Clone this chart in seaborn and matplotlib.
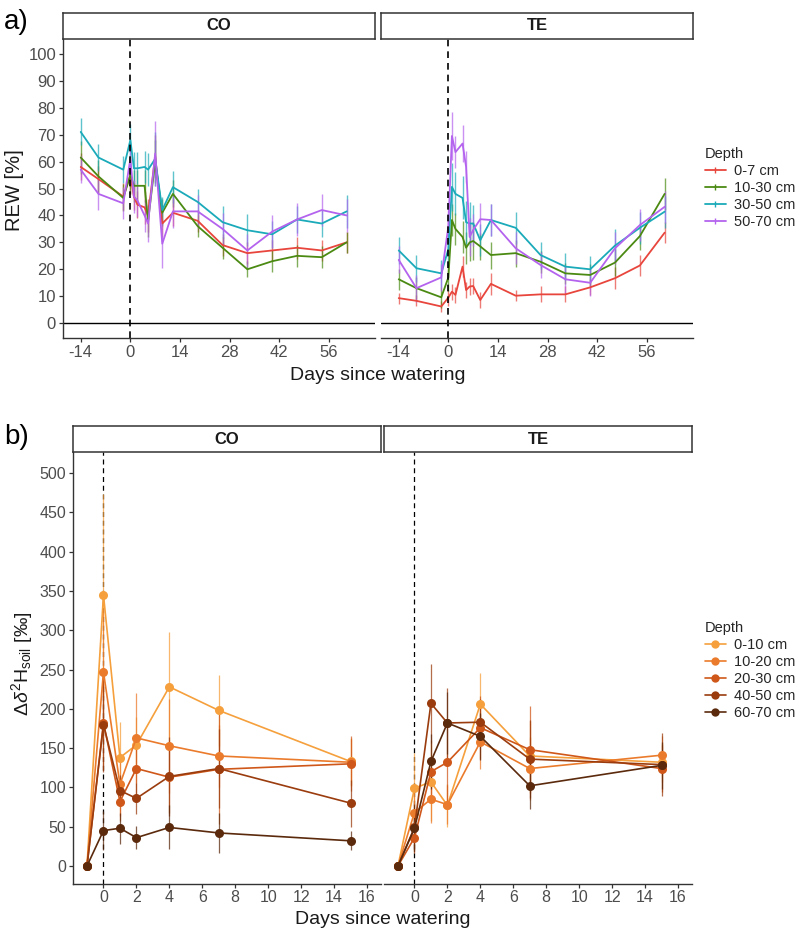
import numpy as np
import pandas as pd
import matplotlib
matplotlib.use('Agg')
import matplotlib.pyplot as plt
import seaborn as sns
from matplotlib.lines import Line2D

# ---- panel a: relative extractable water (REW) ----
rew_depths = ['0-7 cm', '10-30 cm', '30-50 cm', '50-70 cm']
rew_colors = ['#E8453C', '#4B8A12', '#1AAAB9', '#B463EE']

co_days = [-14, -9, -2, 0, 1, 2, 4, 5, 7, 9, 12, 19, 26, 33, 40, 47, 54, 61]
co_rew = {
    '0-7 cm':   [58, 53.5, 47, 55, 47, 44, 43, 40, 62, 37, 41, 38, 29, 26, 27, 28, 27, 30],
    '10-30 cm': [61.5, 54.5, 46.5, 55, 51, 51, 51, 38, 60, 41, 48, 36, 28, 20, 23, 25, 24.5, 30],
    '30-50 cm': [71, 61.5, 57, 68, 57.5, 57.5, 58, 57, 61, 42, 50.5, 45, 37.5, 34.5, 33, 38.5, 37, 41.5],
    '50-70 cm': [57, 48, 44.5, 61, 47, 45.5, 40, 37, 63, 29.5, 41.5, 41.5, 35, 27, 34, 38.5, 42, 40],
}
co_rew_se = {
    '0-7 cm':   [5, 5, 5, 7, 5, 5, 6, 6, 8, 5, 5, 4, 4, 4, 4, 4, 4, 4],
    '10-30 cm': [6, 6, 5, 7, 6, 6, 6, 6, 8, 5, 5, 4, 4, 3, 4, 4, 4, 4],
    '30-50 cm': [5, 5, 5, 6, 6, 6, 6, 6, 10, 5, 6, 5, 6, 6, 5, 5, 5, 6],
    '50-70 cm': [5, 6, 6, 6, 6, 6, 6, 7, 12, 9, 6, 6, 6, 6, 6, 6, 6, 6],
}

te_days = [-14, -9, -2, 0, 1, 2, 4, 5, 6, 7, 9, 12, 19, 26, 33, 40, 47, 54, 61]
te_rew = {
    '0-7 cm':   [9.3, 8.3, 6.2, 9.5, 11.7, 10.5, 21, 12.3, 13.6, 13.8, 8.6, 14.6, 10.2, 10.7, 10.7, 13.3, 16.7, 21.4, 33.6],
    '10-30 cm': [16.3, 13, 9.6, 17, 38.3, 35, 32, 28, 30, 30.5, 28.5, 25.3, 26, 22.8, 18.5, 17.9, 22.5, 32.3, 48],
    '30-50 cm': [27, 20.4, 18.5, 27.5, 50.6, 48, 46.5, 37.5, 37, 37, 30.8, 38.3, 35.4, 25.3, 21, 20, 28.8, 35.4, 41.4],
    '50-70 cm': [23.5, 13, 17, 36, 69.5, 63.5, 66.7, 58, 32, 34.6, 38.6, 38.3, 27.8, 21.6, 16.3, 15, 27.8, 36.4, 43.2],
}
te_rew_se = {
    '0-7 cm':   [2, 2, 2, 3, 3, 3, 4, 3, 3, 3, 3, 4, 2, 3, 3, 3, 4, 4, 4],
    '10-30 cm': [4, 4, 4, 5, 6, 6, 6, 6, 7, 7, 5, 5, 5, 4, 4, 4, 5, 5, 6],
    '30-50 cm': [5, 5, 5, 6, 9, 8, 8, 8, 8, 7, 6, 6, 6, 5, 5, 5, 6, 6, 6],
    '50-70 cm': [5, 5, 5, 6, 9, 6, 7, 6, 7, 6, 6, 6, 6, 5, 5, 5, 6, 6, 6],
}

# ---- panel b: soil water d2H enrichment ----
iso_depths = ['0-10 cm', '10-20 cm', '20-30 cm', '40-50 cm', '60-70 cm']
iso_colors = ['#F5A03C', '#EB7B2C', '#CF5719', '#9A3C0E', '#5B2A0D']
iso_days = [-1, 0, 1, 2, 4, 7, 15]

co_iso = {
    '0-10 cm':  [0, 345, 138, 154, 228, 198, 133],
    '10-20 cm': [0, 247, 104, 163, 153, 140, 132],
    '20-30 cm': [0, 182, 82, 124, 113, 123, 130],
    '40-50 cm': [0, 180, 96, 86, 114, 124, 80],
    '60-70 cm': [0, 45, 48, 36, 49, 42, 32],
}
co_iso_se = {
    '0-10 cm':  [0, 128, 45, 35, 70, 45, 30],
    '10-20 cm': [0, 80, 40, 57, 60, 40, 30],
    '20-30 cm': [0, 60, 25, 40, 45, 70, 35],
    '40-50 cm': [0, 60, 20, 20, 50, 50, 30],
    '60-70 cm': [0, 25, 20, 15, 28, 25, 12],
}
te_iso = {
    '0-10 cm':  [0, 99, 107, 77, 206, 140, 132],
    '10-20 cm': [0, 68, 85, 78, 158, 124, 141],
    '20-30 cm': [0, 36, 120, 132, 176, 148, 124],
    '40-50 cm': [0, 49, 207, 182, 183, 136, 129],
    '60-70 cm': [0, 48, 133, 182, 165, 102, 128],
}
te_iso_se = {
    '0-10 cm':  [0, 45, 50, 27, 40, 45, 25],
    '10-20 cm': [0, 30, 30, 25, 35, 40, 25],
    '20-30 cm': [0, 20, 40, 50, 40, 55, 30],
    '40-50 cm': [0, 30, 50, 45, 30, 50, 40],
    '60-70 cm': [0, 30, 35, 40, 30, 30, 30],
}


def long_df(days, vals, errs, depths):
    rows = []
    for d in depths:
        for x, v, e in zip(days, vals[d], errs[d]):
            rows.append([d, x, v, e])
    return pd.DataFrame(rows, columns=['Depth', 'day', 'value', 'se'])


sns.set_theme(style='ticks')
plt.rcParams['font.family'] = ['Liberation Sans', 'DejaVu Sans']
plt.rcParams['axes.unicode_minus'] = False
plt.rcParams['mathtext.fontset'] = 'custom'
plt.rcParams['mathtext.rm'] = 'Liberation Sans'
plt.rcParams['mathtext.it'] = 'Liberation Sans:italic'

W, H = 800, 933
fig = plt.figure(figsize=(8, 9.33), dpi=100)


def fx(px):
    return px / W


def fy(py):
    return 1 - py / H


axis_grey = '#333333'
tick_grey = '#4D4D4D'


def style_axis(ax, show_y, size=12):
    sns.despine(ax=ax)
    for s in ['left', 'bottom']:
        ax.spines[s].set_color(axis_grey)
        ax.spines[s].set_linewidth(1.0)
    ax.tick_params(colors=axis_grey, labelcolor=tick_grey, labelsize=size, length=3, width=0.9, pad=2)
    if not show_y:
        ax.spines['left'].set_visible(False)
        ax.tick_params(axis='y', left=False, labelleft=False)
    ax.set_xlabel('')
    ax.set_ylabel('')


def strip(left, top, width, text):
    sax = fig.add_axes([fx(left), fy(top + 26), fx(width), 26 / H])
    sax.set_xticks([])
    sax.set_yticks([])
    sax.set_facecolor('white')
    for s in sax.spines.values():
        s.set_color(axis_grey)
        s.set_linewidth(1.1)
    sax.text(0.5, 0.5, text, ha='center', va='center', fontsize=12, fontweight='bold',
             color='#1A1A1A', transform=sax.transAxes)


# ---------------- panel a ----------------
a_top, a_bot = 39, 338
a_panels = [(63, 'CO', co_days, co_rew, co_rew_se), (381, 'TE', te_days, te_rew, te_rew_se)]
for i, (left, name, days, vals, errs) in enumerate(a_panels):
    ax = fig.add_axes([fx(left), fy(a_bot), fx(312), (a_bot - a_top) / H])
    df = long_df(days, vals, errs, rew_depths)
    pal = dict(zip(rew_depths, rew_colors))
    for d in rew_depths:
        sub = df[df.Depth == d]
        ax.vlines(sub.day, sub.value - sub.se, sub.value + sub.se, colors=pal[d],
                  linewidth=1.0, alpha=0.7)
    sns.lineplot(data=df, x='day', y='value', hue='Depth', palette=pal, ax=ax,
                 linewidth=1.3, legend=False, errorbar=None)
    ax.axhline(0, color='black', linewidth=1.0)
    ax.axvline(0, color='black', linewidth=1.2, linestyle=(0, (4, 3)))
    ax.set_xlim(-19, 69)
    ax.set_ylim(-5.5, 105.5)
    ax.set_xticks([-14, 0, 14, 28, 42, 56])
    ax.set_yticks(np.arange(0, 101, 10))
    style_axis(ax, i == 0)
    strip(left, a_top - 26, 312, name)

fig.text(fx(15), fy(190), 'REW [%]', rotation=90, ha='center', va='center', fontsize=14.5, color='#1A1A1A')
fig.text(fx(378), fy(376), 'Days since watering', ha='center', va='center', fontsize=14, color='#1A1A1A')
fig.text(fx(4), fy(22), 'a)', ha='left', va='center', fontsize=20, color='black')

handles_a = [Line2D([], [], color=c, linewidth=1.3, marker='|', markersize=5, markeredgewidth=1)
             for c in rew_colors]
fig.legend(handles_a, rew_depths, title='Depth', loc='upper left',
           bbox_to_anchor=(fx(692), fy(134)), frameon=False, fontsize=10.5,
           title_fontsize=10.5, handlelength=1.4, handletextpad=0.6, labelspacing=0.2,
           alignment='left')

# ---------------- panel b ----------------
b_top, b_bot = 452, 884
b_panels = [(73, 'CO', co_iso, co_iso_se), (384, 'TE', te_iso, te_iso_se)]
for i, (left, name, vals, errs) in enumerate(b_panels):
    ax = fig.add_axes([fx(left), fy(b_bot), fx(308), (b_bot - b_top) / H])
    df = long_df(iso_days, vals, errs, iso_depths)
    pal = dict(zip(iso_depths, iso_colors))
    for d in iso_depths:
        sub = df[df.Depth == d]
        ax.vlines(sub.day, sub.value - sub.se, sub.value + sub.se, colors=pal[d],
                  linewidth=0.9, alpha=0.75)
    sns.lineplot(data=df, x='day', y='value', hue='Depth', palette=pal, ax=ax,
                 linewidth=1.2, marker='o', markersize=6.5, markeredgewidth=0,
                 legend=False, errorbar=None)
    ax.axvline(0, color='black', linewidth=0.9, linestyle=(0, (4, 3)), zorder=0)
    ax.set_xlim(-1.85, 16.85)
    ax.set_ylim(-23, 527)
    ax.set_xticks(np.arange(0, 17, 2))
    ax.set_yticks(np.arange(0, 501, 50))
    style_axis(ax, i == 0, size=11.5)
    ax.tick_params(axis='x', pad=1)
    strip(left, b_top - 26, 308, name)

fig.text(fx(22), fy(664), r'$\Delta\delta^{2}$H$_{\mathrm{soil}}$ [‰]', rotation=90,
         ha='center', va='center', fontsize=14, color='#1A1A1A')
fig.text(fx(383), fy(920), 'Days since watering', ha='center', va='center', fontsize=14, color='#1A1A1A')
fig.text(fx(4), fy(437), 'b)', ha='left', va='center', fontsize=20, color='black')

handles_b = [Line2D([], [], color=c, linewidth=1.2, marker='o', markersize=6, markeredgewidth=0)
             for c in iso_colors]
fig.legend(handles_b, iso_depths, title='Depth', loc='upper left',
           bbox_to_anchor=(fx(692), fy(608)), frameon=False, fontsize=10.5,
           title_fontsize=10.5, handlelength=1.4, handletextpad=0.6, labelspacing=0.2,
           alignment='left')

fig.savefig('out.png', dpi=100)
